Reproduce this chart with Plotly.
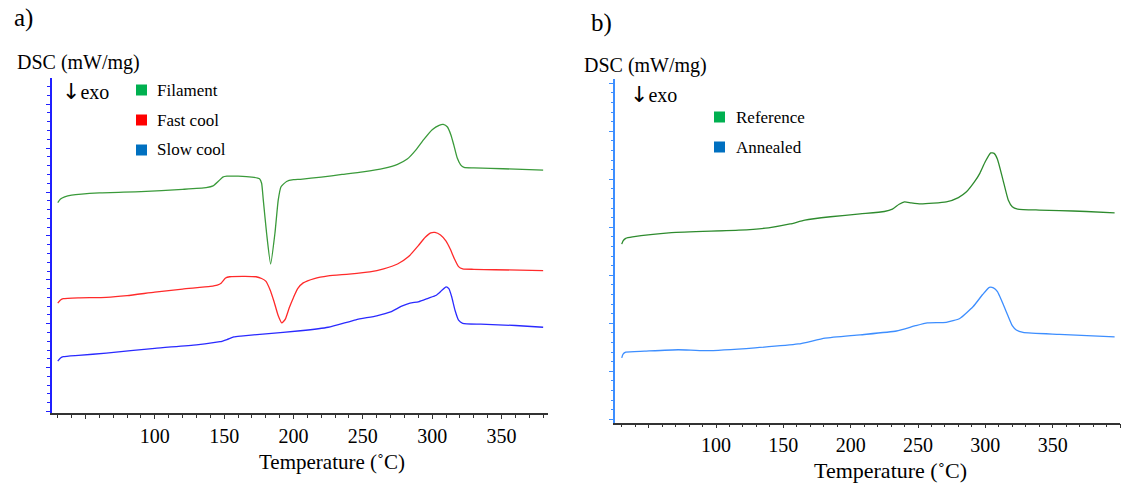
import plotly.graph_objects as go

# ---- Panel a: DSC traces (temperature in °C, heat flow in arbitrary offset units) ----
fil_T = [30, 32, 35, 40, 60, 90, 120, 137, 142, 146, 149, 152, 160, 170, 175.5, 177,
         178.2, 180.6, 183.5, 186.6, 189, 191, 195, 200, 205, 220, 235, 250, 265, 275,
         282, 288, 294, 300, 305, 308, 311, 313.5, 315.5, 318, 320.5, 323, 330, 342, 360, 380]
fil_y = [4.76, 4.84, 4.89, 4.93, 4.98, 5.01, 5.06, 5.10, 5.14, 5.25, 5.34, 5.36, 5.36, 5.34,
         5.30, 5.20, 4.82, 4.06, 3.36, 4.06, 4.82, 5.12, 5.24, 5.28, 5.29, 5.34, 5.40, 5.46,
         5.54, 5.63, 5.75, 5.95, 6.20, 6.42, 6.52, 6.54, 6.48, 6.30, 6.08, 5.78, 5.62, 5.56,
         5.55, 5.54, 5.52, 5.50]

fast_T = [30, 32, 34, 45, 65, 80, 100, 120, 140, 145, 148, 151, 154, 165, 173, 177, 180,
          183, 186, 189, 191.5, 194, 197, 200, 203, 207, 215, 225, 240, 255, 265, 275, 283,
          290, 295, 299, 302, 306, 310, 313, 316, 319, 322, 330, 345, 380]
fast_y = [2.47, 2.54, 2.57, 2.59, 2.60, 2.64, 2.72, 2.79, 2.85, 2.88, 2.93, 3.04, 3.07, 3.08,
          3.07, 3.03, 2.97, 2.78, 2.50, 2.18, 2.02, 2.10, 2.37, 2.60, 2.80, 2.93, 3.03, 3.09,
          3.13, 3.18, 3.25, 3.36, 3.53, 3.78, 3.97, 4.07, 4.08, 4.02, 3.88, 3.70, 3.48, 3.30,
          3.25, 3.24, 3.23, 3.21]

slow_T = [30, 32, 34, 45, 65, 100, 130, 147, 152, 157, 162, 180, 205, 225, 245, 260, 270,
          278, 284, 290, 297, 303, 307, 310, 312, 314, 316.5, 319, 322, 335, 360, 380]
slow_y = [1.15, 1.22, 1.25, 1.28, 1.33, 1.44, 1.52, 1.59, 1.64, 1.70, 1.72, 1.77, 1.84, 1.92,
          2.09, 2.18, 2.27, 2.40, 2.47, 2.50, 2.58, 2.65, 2.76, 2.84, 2.80, 2.62, 2.30, 2.08,
          2.01, 1.99, 1.96, 1.92]

# ---- Panel b ----
ref_T = [30, 31, 33, 38, 67, 117, 139, 155, 166, 185, 207, 225, 231, 236, 240, 245, 252, 271,
         280, 286, 292, 296, 300, 304, 306.5, 309, 313, 317, 320, 324, 340, 355, 375, 396]
ref_y = [3.65, 3.72, 3.77, 3.80, 3.89, 3.94, 3.99, 4.07, 4.15, 4.22, 4.28, 4.33, 4.38, 4.48,
         4.53, 4.51, 4.49, 4.53, 4.62, 4.74, 4.95, 5.13, 5.37, 5.55, 5.54, 5.42, 5.00, 4.57,
         4.43, 4.38, 4.36, 4.35, 4.33, 4.30]

ann_T = [30, 31, 33, 47, 72, 92, 129, 161, 181, 207, 234, 248, 257, 271, 281, 291, 298, 303,
         306, 309, 312, 316, 320, 323, 328, 355, 396]
ann_y = [1.28, 1.36, 1.40, 1.42, 1.45, 1.43, 1.49, 1.57, 1.69, 1.76, 1.84, 1.95, 2.01, 2.02,
         2.10, 2.35, 2.60, 2.75, 2.74, 2.66, 2.48, 2.21, 1.95, 1.86, 1.81, 1.77, 1.72]

# x-axis tick labels
tick_vals_a = [50, 100, 150, 200, 250, 300, 350]
tick_text_a = ["", "100", "150", "200", "250", "300", "350"]
tick_vals_b = [50, 100, 150, 200, 250, 300, 350, 400]
tick_text_b = ["", "100", "150", "200", "250", "300", "350", ""]

legend_a = [("Filament", "#00b050"), ("Fast cool", "#ff0000"), ("Slow cool", "#0070c0")]
legend_b = [("Reference", "#00b050"), ("Annealed", "#0070c0")]

W, H = 1122, 488
SERIF = "Liberation Serif, Times New Roman, serif"

fig = go.Figure()
fig.add_trace(go.Scatter(x=fil_T, y=fil_y, mode="lines", line=dict(color="#3a9a3a", width=1.3, shape="spline", smoothing=0.5), xaxis="x", yaxis="y"))
fig.add_trace(go.Scatter(x=fast_T, y=fast_y, mode="lines", line=dict(color="#ff2a2a", width=1.3, shape="spline", smoothing=0.5), xaxis="x", yaxis="y"))
fig.add_trace(go.Scatter(x=slow_T, y=slow_y, mode="lines", line=dict(color="#2a2aff", width=1.3, shape="spline", smoothing=0.5), xaxis="x", yaxis="y"))
fig.add_trace(go.Scatter(x=ref_T, y=ref_y, mode="lines", line=dict(color="#2e8b2e", width=1.3, shape="spline", smoothing=0.5), xaxis="x2", yaxis="y2"))
fig.add_trace(go.Scatter(x=ann_T, y=ann_y, mode="lines", line=dict(color="#3d8eff", width=1.3, shape="spline", smoothing=0.5), xaxis="x2", yaxis="y2"))


def xaxis_cfg(domain, rng, vals, text, anchor):
    return dict(
        domain=domain, range=rng, anchor=anchor, showgrid=False, zeroline=False,
        showline=True, linecolor="#333333", linewidth=1.5,
        ticks="outside", ticklen=4, tickcolor="#333333", tickwidth=1,
        tickvals=vals, ticktext=text, tickfont=dict(family=SERIF, size=20, color="black"),
        ticklabelstandoff=0,
        minor=dict(ticks="outside", ticklen=2.5, dtick=10, tick0=0, tickcolor="#333333", showgrid=False),
    )


def yaxis_cfg(domain, rng, color, anchor):
    return dict(
        domain=domain, range=rng, anchor=anchor, showgrid=False, zeroline=False,
        showline=True, linecolor=color, linewidth=1.5,
        ticks="outside", ticklen=4, tickcolor=color, dtick=1, tick0=0,
        showticklabels=False,
        minor=dict(ticks="outside", ticklen=2.5, dtick=0.2, tick0=0, tickcolor=color, showgrid=False),
    )


fig.update_layout(
    width=W, height=H, margin=dict(l=0, r=0, t=0, b=0),
    paper_bgcolor="white", plot_bgcolor="white", showlegend=False,
    xaxis=xaxis_cfg([51.5 / W, 548 / W], [25.5, 383.5], tick_vals_a, tick_text_a, "y"),
    yaxis=yaxis_cfg([1 - 413.3 / H, 1 - 78.3 / H], [-0.04, 7.59], "#2020ff", "x"),
    xaxis2=xaxis_cfg([615 / W, 1120 / W], [25, 400], tick_vals_b, tick_text_b, "y2"),
    yaxis2=yaxis_cfg([1 - 422.7 / H, 1 - 79 / H], [-0.07, 7.09], "#3d8eff", "x2"),
)


def text_at(px, py, s, size, xanchor="left", family=SERIF):
    fig.add_annotation(x=px / W, y=1 - py / H, xref="paper", yref="paper", text=s,
                       showarrow=False, xanchor=xanchor, yanchor="middle",
                       font=dict(family=family, size=size, color="black"))


def swatch(px, py, color):
    fig.add_shape(type="rect", xref="paper", yref="paper",
                  x0=px / W, x1=(px + 11) / W, y0=1 - (py + 5.5) / H, y1=1 - (py - 5.5) / H,
                  fillcolor=color, line=dict(width=0))


# downward arrow set in a sans font so it gets full height, followed by "exo"
EXO = "<span style='font-family:DejaVu Sans;font-size:22px'>↓</span>exo"

# panel a labels
text_at(12, 18, "a)", 25)
text_at(15, 63, "DSC (mW/mg)", 20)
text_at(60, 91, EXO, 20)
for i, (name, col) in enumerate(legend_a):
    py = [90, 120, 150][i]
    swatch(136, py, col)
    text_at(155, py, name, 17)
text_at(332, 462, "Temperature (˚C)", 21, "center")

# panel b labels
text_at(589, 23, "b)", 25)
text_at(582, 65, "DSC (mW/mg)", 20)
text_at(628, 94, EXO, 20)
for i, (name, col) in enumerate(legend_b):
    py = [117, 147][i]
    swatch(714, py, col)
    text_at(734, py, name, 17)
text_at(890, 470, "Temperature (˚C)", 22, "center")

fig.write_html("out.html")
